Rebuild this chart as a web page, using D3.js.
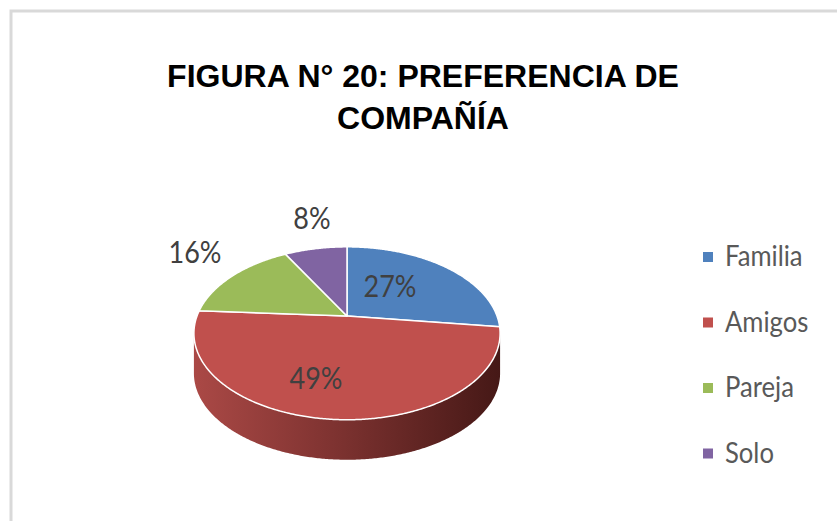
<!DOCTYPE html>
<html>
<head>
<meta charset="utf-8">
<script src="https://cdn.jsdelivr.net/npm/d3@7"></script>
<style>
  body { margin: 0; background: #fff; }
  svg { display: block; }
</style>
</head>
<body>
<svg id="chart"></svg>
<script>
// Data
const categories = ["Familia", "Amigos", "Pareja", "Solo"];
const values = [27, 49, 16, 8];
const labels = ["27%", "49%", "16%", "8%"];
const colors = ["#4f81bd", "#c0504d", "#9bbb59", "#8064a2"];
const titleLines = ["FIGURA N° 20: PREFERENCIA DE", "COMPAÑÍA"];

(() => {
    const width = 837;
    const height = 521;

    const svg = d3.select("#chart")
        .attr("width", width)
        .attr("height", height);

    // chart frame
    svg.append("rect")
        .attr("x", 11).attr("y", 11)
        .attr("width", width).attr("height", height)
        .attr("fill", "none")
        .attr("stroke", "#d9d9d9")
        .attr("stroke-width", 3);

    // title
    svg.append("text")
        .attr("text-anchor", "middle")
        .attr("font-family", "Liberation Sans, Arial, sans-serif")
        .attr("font-weight", "bold")
        .attr("font-size", 32)
        .attr("fill", "#000")
        .selectAll("tspan")
        .data(titleLines)
        .join("tspan")
        .attr("x", 423)
        .attr("y", (d, i) => 87 + i * 42)
        .text(d => d);

    // perspective pie (tilted disc)
    const cx = 347, cy = 316;    // image of the disc centre
    const sx = 150, sy = 83;     // radii before perspective
    const k = 0.2;               // perspective strength
    const depth = 40;

    const project = (a, dy = 0) => {
        const w = 1 + k * Math.cos(a);
        return [cx + sx * Math.sin(a) / w, cy - sy * Math.cos(a) / w + dy];
    };

    const pie = d3.pie().sort(null).value(d => d)(values);
    const line = d3.line();
    const step = Math.PI / 360;

    const sample = (a0, a1, dy = 0) => {
        const pts = d3.range(a0, a1, step).map(a => project(a, dy));
        pts.push(project(a1, dy));
        return pts;
    };

    const defs = svg.append("defs");
    const grad = defs.append("linearGradient")
        .attr("id", "sideGrad")
        .attr("gradientUnits", "userSpaceOnUse")
        .attr("x1", cx - sx * 1.03).attr("x2", cx + sx * 1.03)
        .attr("y1", 0).attr("y2", 0);
    grad.selectAll("stop")
        .data([[0, "#ab4946"], [0.45, "#7f3331"], [1, "#451816"]])
        .join("stop")
        .attr("offset", d => d[0])
        .attr("stop-color", d => d[1]);

    // visible side wall = front half of silhouette
    const aL = Math.acos(-k);
    const aR = 2 * Math.PI - aL;
    pie.forEach((d, i) => {
        const a0 = Math.max(d.startAngle, aL);
        const a1 = Math.min(d.endAngle, aR);
        if (a1 <= a0) return;
        const pts = sample(a0, a1).concat(sample(a0, a1, depth).reverse());
        svg.append("path")
            .attr("d", line(pts) + "Z")
            .attr("fill", i === 1 ? "url(#sideGrad)" : colors[i]);
    });

    // top faces
    svg.append("g")
        .selectAll("path")
        .data(pie)
        .join("path")
        .attr("d", d => line([[cx, cy]].concat(sample(d.startAngle, d.endAngle))) + "Z")
        .attr("fill", (d, i) => colors[i])
        .attr("stroke", "#fff")
        .attr("stroke-width", 1.5)
        .attr("stroke-linejoin", "round");

    // data labels (slightly condensed to look like Calibri)
    const labelPos = [[390, 297], [316, 389], [195, 263], [312, 229]];
    svg.append("g")
        .selectAll("text")
        .data(labels)
        .join("text")
        .attr("transform", (d, i) => `translate(${labelPos[i][0]},${labelPos[i][1]}) scale(0.9,1.05)`)
        .attr("text-anchor", "middle")
        .attr("font-family", "Lato, sans-serif")
        .attr("font-size", 30)
        .attr("fill", "#404040")
        .text(d => d);

    // legend
    const legend = svg.append("g")
        .selectAll("g")
        .data(categories)
        .join("g")
        .attr("transform", (d, i) => `translate(703, ${252 + i * 65.5})`);

    legend.append("rect")
        .attr("width", 10).attr("height", 10)
        .attr("fill", (d, i) => colors[i]);

    legend.append("text")
        .attr("transform", "translate(22,14) scale(0.95,1.05)")
        .attr("font-family", "Lato, sans-serif")
        .attr("font-size", 27)
        .attr("fill", "#595959")
        .text(d => d);
})();
</script>
</body>
</html>
